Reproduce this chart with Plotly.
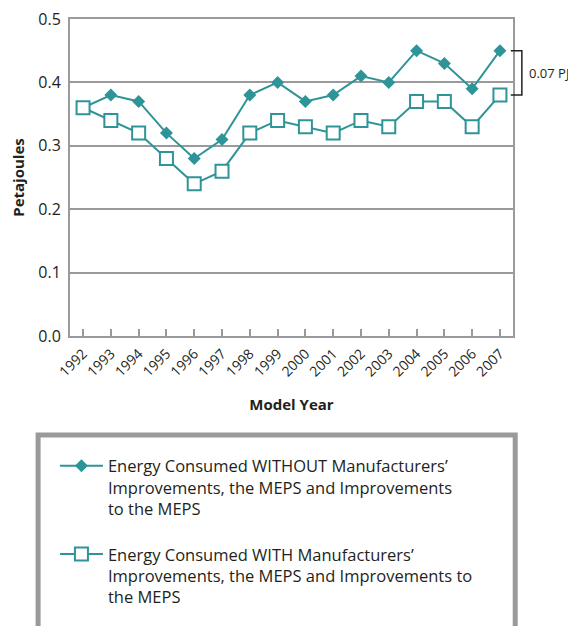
import plotly.graph_objects as go

years = ["1992", "1993", "1994", "1995", "1996", "1997", "1998", "1999",
         "2000", "2001", "2002", "2003", "2004", "2005", "2006", "2007"]
without_improvements = [0.36, 0.38, 0.37, 0.32, 0.28, 0.31, 0.38, 0.40,
                        0.37, 0.38, 0.41, 0.40, 0.45, 0.43, 0.39, 0.45]
with_improvements = [0.36, 0.34, 0.32, 0.28, 0.24, 0.26, 0.32, 0.34,
                     0.33, 0.32, 0.34, 0.33, 0.37, 0.37, 0.33, 0.38]
name_without = "Energy Consumed WITHOUT Manufacturers’<br>Improvements, the MEPS and Improvements<br>to the MEPS"
name_with = "Energy Consumed WITH Manufacturers’<br>Improvements, the MEPS and Improvements to<br>the MEPS"
gap_label = "0.07 PJ"

teal = "#2f9497"
grid = "#9a9a9c"
font_family = "Open Sans"

fig = go.Figure()
fig.add_trace(go.Scatter(
    x=years, y=without_improvements, name=name_without, mode="lines+markers",
    legendgroup="a",
    line=dict(color=teal, width=2),
    marker=dict(symbol="diamond", size=10, color=teal),
))
fig.add_trace(go.Scatter(
    x=years, y=with_improvements, name=name_with, mode="lines+markers",
    legendgroup="b",
    line=dict(color=teal, width=2),
    marker=dict(symbol="square", size=13, color="white", line=dict(color=teal, width=2)),
))

# page body has an 8px margin, so the figure is sized/offset to compensate
fig.update_layout(
    width=568, height=618,
    margin=dict(l=62, r=63, t=11, b=288),
    plot_bgcolor="white", paper_bgcolor="white",
    font=dict(family=font_family, size=15, color="#231f20"),
    showlegend=True,
    legend=dict(
        x=-0.034, y=-0.355, xanchor="left", yanchor="top",
        traceorder="grouped", font=dict(size=16.5), itemwidth=43,
        tracegroupgap=21, valign="top", bgcolor="rgba(0,0,0,0)",
    ),
    xaxis=dict(
        type="category", range=[-0.47, 15.47], automargin=False,
        showline=True, linecolor=grid, linewidth=2, mirror=True,
        ticks="inside", tickcolor=grid, ticklen=7, tickwidth=2,
        tickangle=-45, showgrid=False, ticklabelstandoff=2,
        title=dict(text="<b>Model Year</b>", font=dict(size=15), standoff=20),
        tickfont=dict(size=14),
    ),
    yaxis=dict(
        range=[0, 0.5], dtick=0.1, tickformat=".1f", automargin=False,
        showline=True, linecolor=grid, linewidth=2, mirror=True,
        showgrid=True, gridcolor=grid, gridwidth=2, zeroline=False,
        ticks="", ticklabelstandoff=4, ticklabeloverflow="allow",
        title=dict(text="<b>Petajoules</b>", font=dict(size=15), standoff=10),
        tickfont=dict(size=16),
    ),
)

# bracket annotation
fig.add_shape(type="path", xref="paper", yref="y",
              path="M 0.995 0.45 L 1.02 0.45 L 1.02 0.38 L 0.995 0.38",
              line=dict(color="#231f20", width=1.5))
fig.add_annotation(xref="paper", yref="y", x=1.032, y=0.415, text=gap_label,
                   showarrow=False, xanchor="left", font=dict(size=13))

# legend frame (cut off at the bottom)
fig.add_shape(type="rect", xref="paper", yref="paper",
              x0=-0.072, x1=1.005, y0=-1.3, y1=-0.312,
              line=dict(color=grid, width=5))

fig.write_html("out.html")
